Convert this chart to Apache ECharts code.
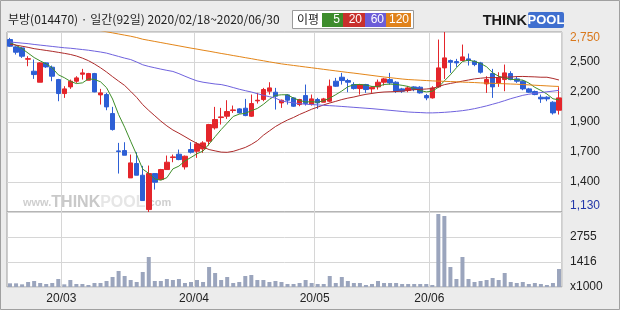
<!DOCTYPE html>
<html><head><meta charset="utf-8">
<script src="https://cdn.jsdelivr.net/npm/echarts@6/dist/echarts.min.js"></script>
<style>html,body{margin:0;padding:0;background:#ececec}#c{width:620px;height:310px}</style>
</head><body><div id="c"></div>
<script>
const dates = [
'2020/02/18','2020/02/19','2020/02/20','2020/02/21','2020/02/24','2020/02/25','2020/02/26','2020/02/27','2020/02/28',
'2020/03/02','2020/03/03','2020/03/04','2020/03/05','2020/03/06','2020/03/09','2020/03/10','2020/03/11','2020/03/12','2020/03/13',
'2020/03/16','2020/03/17','2020/03/18','2020/03/19','2020/03/20','2020/03/23','2020/03/24','2020/03/25','2020/03/26','2020/03/27','2020/03/30','2020/03/31',
'2020/04/01','2020/04/02','2020/04/03','2020/04/06','2020/04/07','2020/04/08','2020/04/09','2020/04/10','2020/04/13','2020/04/14','2020/04/16','2020/04/17',
'2020/04/20','2020/04/21','2020/04/22','2020/04/23','2020/04/24','2020/04/27','2020/04/28','2020/04/29',
'2020/05/04','2020/05/06','2020/05/07','2020/05/08','2020/05/11','2020/05/12','2020/05/13','2020/05/14','2020/05/15','2020/05/18','2020/05/19','2020/05/20',
'2020/05/21','2020/05/22','2020/05/25','2020/05/26','2020/05/27','2020/05/28','2020/05/29',
'2020/06/01','2020/06/02','2020/06/03','2020/06/04','2020/06/05','2020/06/08','2020/06/09','2020/06/10','2020/06/11','2020/06/12','2020/06/15','2020/06/16',
'2020/06/17','2020/06/18','2020/06/19','2020/06/22','2020/06/23','2020/06/24','2020/06/25','2020/06/26','2020/06/29','2020/06/30'];

const openP = [2682,2616,2607,2505,2397,2298,2472,2433,2322,2196,2256,2307,2370,2316,2376,2184,2187,2016,1680,1683,
1437,1566,1461,1152,1476,1422,1512,1620,1650,1536,1692,1677,1698,1767,1887,1980,1992,2043,2058,2064,
1992,2130,2142,2217,2208,2112,2184,2157,2097,2178,2097,2142,2118,2127,2307,2343,2313,2277,2241,2277,
2238,2256,2298,2322,2298,2238,2223,2256,2253,2178,2157,2256,2427,2493,2484,2493,2508,2487,2472,2283,
2376,2292,2322,2376,2328,2307,2238,2214,2163,2163,2118,2046];
const closeP = [2622,2568,2532,2510,2367,2472,2436,2352,2196,2238,2307,2337,2382,2376,2211,2202,2076,1872,1674,1641,
1572,1461,1233,1476,1398,1512,1578,1626,1602,1632,1668,1743,1752,1917,1962,1986,2034,2049,2022,1998,
2106,2136,2232,2247,2172,2136,2136,2082,2142,2106,2148,2112,2148,2262,2262,2313,2298,2241,2277,2232,
2253,2298,2328,2292,2217,2217,2247,2232,2202,2157,2247,2427,2517,2478,2472,2526,2493,2457,2388,2322,
2256,2337,2382,2322,2307,2238,2208,2187,2148,2148,2022,2157];
const lowP = [2616,2547,2517,2442,2328,2298,2427,2307,2127,2157,2238,2292,2322,2316,2208,2097,2046,1863,1476,1641,
1437,1461,1230,1130,1332,1422,1512,1578,1596,1512,1656,1617,1662,1728,1872,1917,1968,2022,2016,1992,
1986,2106,2127,2187,2052,2067,2097,2076,2082,2088,2088,2058,2118,2118,2256,2277,2208,2232,2187,2202,
2202,2232,2268,2277,2202,2202,2208,2217,2196,2136,2151,2247,2328,2382,2436,2487,2448,2442,2376,2202,
2157,2256,2217,2316,2292,2226,2202,2181,2112,2127,2007,2007];
const highP = [2697,2622,2616,2532,2502,2478,2478,2448,2328,2262,2322,2352,2418,2382,2382,2238,2202,2076,1752,1758,
1647,1668,1545,1548,1476,1518,1638,1647,1692,1638,1758,1758,1767,1923,2076,2067,2136,2088,2064,2148,
2187,2202,2247,2298,2247,2142,2190,2163,2148,2277,2187,2157,2157,2322,2337,2382,2328,2298,2283,2283,
2262,2322,2337,2382,2307,2247,2262,2262,2262,2193,2262,2682,2750,2502,2508,2637,2556,2496,2481,2352,
2418,2388,2457,2397,2352,2316,2247,2223,2187,2172,2127,2253];

const ma5 = [2655,2630,2600,2560,2520,2490,2463,2427,2365,2339,2306,2286,2292,2328,2323,2302,2249,2147,2007,1893,
1767,1644,1516,1477,1428,1416,1439,1518,1543,1590,1621,1654,1679,1742,1808,1872,1930,1990,2011,2018,
2042,2062,2099,2144,2179,2185,2185,2155,2134,2120,2123,2118,2131,2155,2186,2219,2257,2275,2278,2272,
2260,2260,2278,2281,2278,2270,2260,2241,2223,2211,2217,2253,2310,2365,2428,2484,2497,2485,2467,2437,
2383,2352,2337,2324,2321,2317,2291,2252,2224,2192,2149,2139];
const ma20 = [2640,2632,2622,2612,2600,2592,2584,2576,2567,2558,2548,2534,2515,2492,2462,2428,2390,2348,2308,2269,
2216,2161,2096,2044,1996,1948,1905,1868,1839,1808,1776,1747,1715,1692,1680,1669,1667,1676,1693,1711,
1738,1772,1821,1860,1899,1930,1958,1981,2008,2031,2055,2074,2094,2111,2126,2142,2155,2165,2178,2189,
2197,2205,2210,2212,2214,2218,2224,2231,2234,2237,2242,2258,2276,2287,2297,2308,2318,2328,2334,2339,
2339,2341,2343,2345,2349,2350,2348,2346,2343,2343,2332,2318];
const ma60 = [2660,2655,2650,2645,2638,2632,2626,2620,2614,2608,2604,2598,2592,2586,2578,2570,2560,2545,2530,2515,
2502,2480,2455,2440,2428,2416,2405,2395,2375,2352,2330,2310,2298,2290,2282,2277,2265,2250,2235,2222,
2210,2195,2180,2168,2155,2130,2120,2112,2105,2100,2097,2094,2090,2087,2084,2080,2076,2072,2068,2064,
2060,2055,2050,2045,2040,2035,2030,2027,2025,2022,2022,2024,2027,2031,2036,2042,2050,2060,2072,2085,
2100,2115,2132,2150,2165,2180,2190,2198,2205,2212,2218,2225];
const ma120 = [2970,2955,2940,2925,2910,2895,2880,2865,2850,2835,2820,2808,2796,2784,2772,2762,2752,2742,2732,2722,
2712,2700,2685,2675,2665,2655,2645,2635,2625,2615,2605,2596,2586,2577,2567,2557,2548,2538,2529,2519,
2510,2500,2491,2481,2472,2463,2456,2449,2442,2435,2428,2421,2414,2407,2400,2393,2386,2380,2373,2366,
2359,2352,2345,2339,2333,2327,2322,2319,2316,2313,2310,2308,2306,2304,2302,2299,2297,2295,2292,2290,
2288,2286,2284,2282,2280,2277,2274,2271,2268,2265,2262,2260];
const volume = [273,273,220,345,398,291,238,291,505,220,452,238,238,184,291,291,398,612,934,666,
452,345,880,1684,398,398,505,452,505,291,345,452,345,1148,827,452,612,291,345,666,
720,452,452,345,398,345,238,238,291,452,291,238,238,666,291,612,398,291,291,184,
238,398,291,291,291,238,238,238,238,238,184,3986,3879,1148,505,1684,505,345,398,452,
559,452,827,345,291,345,238,291,238,184,291,1041];

const priceTickLabels = ['1,130','1,400','1,700','1,900','2,200','2,500','2,750'];
const volTickLabels = ['x1000','1416','2755',''];
const monthStarts = ['2020/03/02','2020/04/01','2020/05/04','2020/06/01'];
const monthLabels = ['20/03','20/04','20/05','20/06'];
const priceMin = 1130, priceMax = 2750;
const volMin = 77, volMax = 4094;

const candleData = dates.map((d, i) => [openP[i], closeP[i], lowP[i], highP[i]]);
const gridLine = { color: '#d6d6d6', width: 1 };
const numFont = 'Liberation Sans';

const chart = echarts.init(document.getElementById('c'), null, { renderer: 'canvas' });
chart.setOption({
  animation: false,
  backgroundColor: '#ececec',
  grid: [
    { left: 7, right: 58, top: 32, height: 180, show: true, backgroundColor: '#ffffff', borderColor: '#9c9c9c', borderWidth: 1 },
    { left: 7, right: 58, top: 212, height: 75, show: true, backgroundColor: '#ffffff', borderColor: '#9c9c9c', borderWidth: 1 }
  ],
  xAxis: [
    { type: 'category', gridIndex: 0, data: dates, boundaryGap: true,
      axisLine: { show: false }, axisTick: { show: false }, axisLabel: { show: false },
      splitLine: { show: true, interval: (i, v) => monthStarts.includes(v), lineStyle: gridLine } },
    { type: 'category', gridIndex: 1, data: dates, boundaryGap: true,
      axisLine: { show: false }, axisTick: { show: false },
      axisLabel: { show: true, interval: (i, v) => monthStarts.includes(v),
        formatter: v => monthLabels[monthStarts.indexOf(v)] || '',
        color: '#222', fontSize: 12, fontFamily: numFont, margin: 6, padding: [0, 6, 0, 0] },
      splitLine: { show: true, interval: (i, v) => monthStarts.includes(v), lineStyle: gridLine } }
  ],
  yAxis: [
    { type: 'value', gridIndex: 0, min: priceMin, max: priceMax, show: false, splitLine: { show: false } },
    { type: 'value', gridIndex: 0, position: 'right', min: 0, max: 6, interval: 1,
      axisLine: { show: false }, axisTick: { show: false },
      splitLine: { show: true, lineStyle: gridLine },
      axisLabel: { margin: 8, align: 'left', fontSize: 12, fontFamily: numFont, color: '#222',
        verticalAlignMinLabel: 'bottom', verticalAlignMaxLabel: 'top',
        formatter: v => {
          const t = priceTickLabels[v];
          if (v === 6) return '{hi|' + t + '}';
          if (v === 0) return '{lo|' + t + '}';
          return t;
        },
        rich: { hi: { color: '#d9781c', fontSize: 12, fontFamily: numFont }, lo: { color: '#2236a8', fontSize: 12, fontFamily: numFont } } } },
    { type: 'value', gridIndex: 1, min: volMin, max: volMax, show: false, splitLine: { show: false } },
    { type: 'value', gridIndex: 1, position: 'right', min: 0, max: 3, interval: 1,
      axisLine: { show: false }, axisTick: { show: false },
      splitLine: { show: true, lineStyle: gridLine },
      axisLabel: { margin: 8, align: 'left', fontSize: 12, fontFamily: numFont, color: '#222',
        formatter: v => volTickLabels[v] } }
  ],
  graphic: [
    { type: 'rect', shape: { x: 0.5, y: 0.5, width: 619, height: 309 }, style: { fill: 'none', stroke: '#a0a0a0', lineWidth: 1 }, silent: true, z: 10 },
    { type: 'text', x: 8, y: 19, style: { text: '부방(014470) · 일간(92일) 2020/02/18~2020/06/30', fontSize: 12, fontFamily: 'Noto Sans CJK KR', fill: '#222', verticalAlign: 'middle' } },
    { type: 'rect', shape: { x: 292.5, y: 10.5, width: 121, height: 18 }, style: { fill: '#ffffff', stroke: '#9a9a9a', lineWidth: 1 } },
    { type: 'text', x: 297, y: 19.5, style: { text: '이평', fontSize: 12, fontFamily: 'Noto Sans CJK KR', fill: '#222', verticalAlign: 'middle' } },
    { type: 'rect', shape: { x: 322, y: 13, width: 21, height: 14 }, style: { fill: '#3d8c2c' } },
    { type: 'text', x: 340, y: 20, style: { text: '5', fontSize: 12, fontFamily: numFont, fill: '#ffffff', align: 'right', verticalAlign: 'middle' } },
    { type: 'rect', shape: { x: 343, y: 13, width: 22, height: 14 }, style: { fill: '#c8302c' } },
    { type: 'text', x: 362, y: 20, style: { text: '20', fontSize: 12, fontFamily: numFont, fill: '#ffffff', align: 'right', verticalAlign: 'middle' } },
    { type: 'rect', shape: { x: 365, y: 13, width: 21, height: 14 }, style: { fill: '#6b5dd8' } },
    { type: 'text', x: 384, y: 20, style: { text: '60', fontSize: 12, fontFamily: numFont, fill: '#ffffff', align: 'right', verticalAlign: 'middle' } },
    { type: 'rect', shape: { x: 386, y: 13, width: 25, height: 14 }, style: { fill: '#e0821c' } },
    { type: 'text', x: 409, y: 20, style: { text: '120', fontSize: 12, fontFamily: numFont, fill: '#ffffff', align: 'right', verticalAlign: 'middle' } },
    { type: 'text', x: 527, y: 20.5, style: { text: 'THINK', fontSize: 14.5, fontWeight: 'bold', fontFamily: 'Liberation Sans', fill: '#1a1a1a', align: 'right', verticalAlign: 'middle' } },
    { type: 'rect', shape: { x: 528, y: 12, width: 36, height: 16, r: 2 }, style: { fill: '#3f6fcf' } },
    { type: 'text', x: 546, y: 20.5, style: { text: 'POOL', fontSize: 13, fontWeight: 'bold', fontFamily: 'Liberation Sans', fill: '#ffffff', align: 'center', verticalAlign: 'middle' } },
    { type: 'text', x: 23, y: 203, z: 1, silent: true, style: { text: '{a|www.}{b|THINK}{c|POOL}{a|.com}', verticalAlign: 'middle',
      rich: { a: { fontSize: 11, fontWeight: 'bold', fontFamily: 'Liberation Sans', fill: '#cfcfcf' },
              b: { fontSize: 16, fontWeight: 'bold', fontFamily: 'Liberation Sans', fill: '#c9c9c9' },
              c: { fontSize: 16, fontWeight: 'bold', fontFamily: 'Liberation Sans', fill: '#e6e6e6' } } } }
  ],
  series: [
    { name: 'price', type: 'candlestick', xAxisIndex: 0, yAxisIndex: 0, data: candleData, barWidth: 5, z: 3,
      itemStyle: { color: '#e4252b', color0: '#2d5fd5', borderColor: '#e4252b', borderColor0: '#2d5fd5', borderWidth: 1 } },
    { name: 'MA5', type: 'line', xAxisIndex: 0, yAxisIndex: 0, data: ma5, showSymbol: false, symbol: 'none', z: 4,
      lineStyle: { color: '#3f8f2a', width: 1 } },
    { name: 'MA20', type: 'line', xAxisIndex: 0, yAxisIndex: 0, data: ma20, showSymbol: false, symbol: 'none', z: 4,
      lineStyle: { color: '#ad2b2b', width: 1 } },
    { name: 'MA60', type: 'line', xAxisIndex: 0, yAxisIndex: 0, data: ma60, showSymbol: false, symbol: 'none', z: 4,
      lineStyle: { color: '#6f62de', width: 1 } },
    { name: 'MA120', type: 'line', xAxisIndex: 0, yAxisIndex: 0, data: ma120, showSymbol: false, symbol: 'none', z: 4, clip: true,
      lineStyle: { color: '#e38518', width: 1 } },
    { name: 'volume', type: 'bar', xAxisIndex: 1, yAxisIndex: 2, data: volume, barWidth: 4,
      itemStyle: { color: '#9ba5bd' } }
  ]
});
</script></body></html>
